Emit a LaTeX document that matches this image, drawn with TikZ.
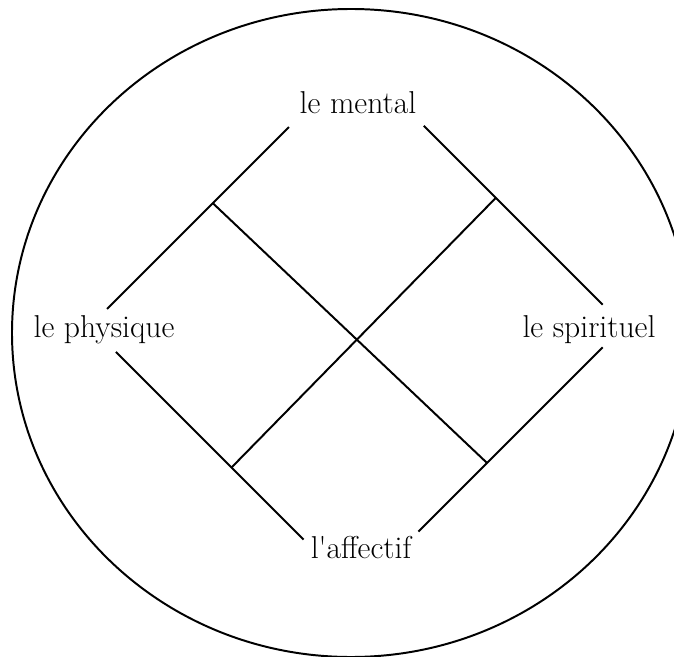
\documentclass[tikz,border=0pt]{standalone}
\usepackage{fontspec}
\usepackage{tikz}
\usetikzlibrary{calc}

\begin{document}
\begin{tikzpicture}[x=0.025cm, y=0.025cm, line width=1.4pt,
    cornertext/.style={font=\fontsize{22.5}{27}\selectfont, inner sep=0pt, anchor=base}]
    \useasboundingbox (-357,-330) rectangle (317,326);

    % Define the four corners of the square
    \foreach \i in {0,1,2,3} {
        \coordinate (V\i) at (90*\i:267);
    }

    % Draw the surrounding circle
    \draw (-6,-7) ellipse [x radius=339, y radius=324];

    % Place the four words at the corners
    \node[cornertext] (mental) at (1,212) {le mental};
    \node[cornertext] (physique) at (-253,-11) {le physique};
    \node[cornertext] (spirituel) at (232,-11) {le spirituel};
    \node[cornertext] (affectif) at (4,-232) {l\textquotesingle affectif};

    % Draw the sides, broken at the corners
    \draw ($(V2)!0.064!(V1)$) -- ($(V2)!0.745!(V1)$);
    \draw ($(V1)!0.25!(V0)$) -- ($(V1)!0.92!(V0)$);
    \draw ($(V2)!0.097!(V3)$) -- ($(V2)!0.80!(V3)$);
    \draw ($(V3)!0.23!(V0)$) -- ($(V3)!0.92!(V0)$);

    % Draw the cross joining the middles of opposite sides
    \coordinate (M1) at ($(V2)!0.46!(V1)$);
    \coordinate (M2) at ($(V1)!0.52!(V0)$);
    \coordinate (M3) at ($(V2)!0.53!(V3)$);
    \coordinate (M4) at ($(V3)!0.487!(V0)$);
    \draw (M1) -- (M4);
    \draw (M2) -- (M3);

\end{tikzpicture}
\end{document}
